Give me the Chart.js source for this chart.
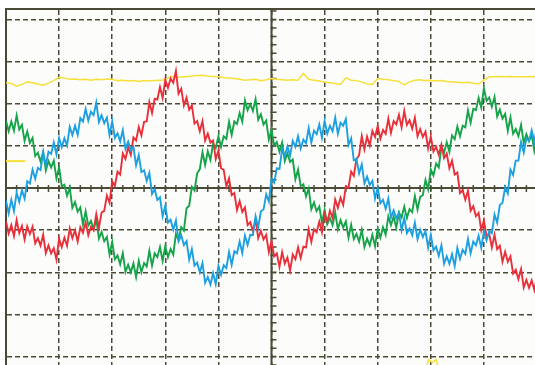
<!DOCTYPE html>
<html>
<head>
<meta charset="utf-8">
<script src="https://cdn.jsdelivr.net/npm/chart.js@4.4.1/dist/chart.umd.min.js"></script>
<style>
  html, body { margin: 0; padding: 0; background: #fff; overflow: hidden; }
  #wrap { width: 545px; height: 365px; }
</style>
</head>
<body>
<div id="wrap"><canvas id="scope" width="545" height="365"></canvas></div>
<script>
// screen units: 10 horizontal divisions, 8 vertical divisions (centre = 0)
const xTicks = [0, 1, 2, 3, 4, 5, 6, 7, 8, 9, 10];
const yTicks = [-4, -3, -2, -1, 0, 1, 2, 3, 4];
const sampleStep = 0.05;   // divisions between samples of the phase traces
const dcStep = 0.1;        // divisions between samples of the yellow trace

// phase currents (divisions)
const phaseRed = [
  -0.80, -1.08, -0.88, -1.14, -0.76, -1.07, -0.90, -1.22, -0.91, -1.09,
  -0.92, -1.31, -1.19, -1.37, -1.11, -1.54, -1.36, -1.55, -1.43, -1.70,
  -1.20, -1.40, -1.18, -1.37, -0.96, -1.19, -1.00, -1.27, -0.93, -1.06,
  -0.82, -1.12, -0.92, -1.00, -0.62, -0.94, -0.58, -0.54, -0.18, -0.35,
  0.16, 0.05, 0.39, 0.32, 0.82, 0.69, 0.97, 0.79, 1.20, 1.13,
  1.45, 1.25, 1.57, 1.58, 2.04, 1.78, 2.12, 2.10, 2.40, 2.14,
  2.57, 2.38, 2.60, 2.50, 2.78, 2.24, 2.36, 1.96, 2.15, 1.86,
  1.96, 1.53, 1.59, 1.35, 1.59, 1.13, 1.29, 1.08, 1.13, 0.69,
  0.89, 0.47, 0.43, 0.04, 0.23, -0.17, -0.12, -0.52, -0.31, -0.57,
  -0.46, -0.88, -0.81, -1.02, -0.75, -1.19, -1.02, -1.22, -1.11, -1.52,
  -1.26, -1.62, -1.55, -1.87, -1.52, -1.79, -1.65, -1.96, -1.58, -1.69,
  -1.41, -1.66, -1.39, -1.41, -0.98, -1.28, -0.98, -1.05, -0.80, -1.05,
  -0.62, -0.80, -0.54, -0.71, -0.27, -0.47, -0.23, -0.40, 0.04, 0.01,
  0.39, 0.29, 0.69, 0.78, 1.23, 0.92, 1.22, 1.01, 1.36, 1.21,
  1.47, 1.17, 1.38, 1.29, 1.65, 1.31, 1.59, 1.51, 1.74, 1.44,
  1.83, 1.50, 1.61, 1.41, 1.67, 1.23, 1.40, 1.21, 1.34, 0.94,
  1.22, 0.87, 0.98, 0.79, 1.03, 0.71, 0.82, 0.47, 0.65, 0.32,
  0.37, -0.12, -0.05, -0.28, -0.06, -0.54, -0.43, -0.67, -0.59, -1.00,
  -0.77, -1.15, -1.09, -1.41, -1.11, -1.45, -1.37, -1.75, -1.51, -1.75,
  -1.62, -2.03, -1.94, -2.16, -1.92, -2.36, -2.18, -2.37, -2.19, -2.42,
  -2.10
];
const phaseGreen = [
  1.60, 1.35, 1.58, 1.36, 1.72, 1.39, 1.50, 1.12, 1.34, 1.07,
  1.19, 0.76, 0.84, 0.63, 0.86, 0.42, 0.64, 0.49, 0.65, 0.23,
  0.49, 0.04, 0.08, -0.18, 0.01, -0.47, -0.33, -0.56, -0.46, -0.87,
  -0.55, -0.89, -0.78, -0.98, -0.74, -1.20, -1.04, -1.26, -1.16, -1.58,
  -1.28, -1.69, -1.60, -1.81, -1.55, -1.99, -1.82, -2.00, -1.79, -2.11,
  -1.73, -2.00, -1.78, -1.86, -1.49, -1.84, -1.55, -1.64, -1.40, -1.73,
  -1.38, -1.64, -1.45, -1.58, -1.09, -1.24, -0.93, -1.01, -0.48, -0.42,
  0.03, -0.06, 0.35, 0.45, 0.85, 0.55, 0.87, 0.67, 1.05, 0.95,
  1.23, 0.98, 1.23, 1.17, 1.57, 1.26, 1.58, 1.52, 1.78, 1.58,
  2.08, 1.85, 1.99, 1.83, 2.11, 1.62, 1.75, 1.51, 1.60, 1.15,
  1.38, 1.01, 1.09, 0.86, 1.08, 0.64, 0.82, 0.62, 0.68, 0.21,
  0.44, 0.05, 0.09, -0.20, -0.01, -0.50, -0.34, -0.55, -0.44, -0.83,
  -0.52, -0.86, -0.71, -0.88, -0.58, -0.98, -0.76, -0.94, -0.79, -1.18,
  -0.87, -1.21, -1.09, -1.27, -0.99, -1.40, -1.20, -1.36, -1.11, -1.38,
  -0.97, -1.18, -0.93, -1.11, -0.67, -0.88, -0.68, -0.94, -0.58, -0.70,
  -0.44, -0.71, -0.50, -0.57, -0.19, -0.51, -0.21, -0.17, 0.19, -0.03,
  0.44, 0.30, 0.58, 0.49, 0.98, 0.84, 1.09, 0.86, 1.25, 1.16,
  1.46, 1.23, 1.48, 1.44, 1.84, 1.55, 1.88, 1.85, 2.14, 1.91,
  2.37, 2.07, 2.15, 1.93, 2.16, 1.70, 1.86, 1.65, 1.76, 1.36,
  1.68, 1.29, 1.40, 1.23, 1.50, 1.07, 1.28, 1.11, 1.26, 0.88,
  1.15
];
const phaseBlue = [
  -0.30, -0.60, -0.28, -0.55, -0.11, -0.33, -0.05, -0.25, 0.16, 0.11,
  0.44, 0.22, 0.48, 0.43, 0.84, 0.54, 0.86, 0.81, 1.08, 0.80,
  1.19, 0.97, 1.18, 1.01, 1.45, 1.26, 1.48, 1.26, 1.66, 1.58,
  1.88, 1.60, 1.81, 1.73, 2.03, 1.57, 1.73, 1.54, 1.67, 1.26,
  1.58, 1.19, 1.30, 1.11, 1.37, 0.93, 1.10, 0.90, 0.98, 0.54,
  0.78, 0.38, 0.42, 0.17, 0.36, -0.14, -0.03, -0.28, -0.22, -0.67,
  -0.42, -0.82, -0.75, -0.99, -0.77, -1.26, -1.12, -1.35, -1.26, -1.70,
  -1.45, -1.84, -1.77, -2.00, -1.78, -2.25, -2.11, -2.29, -2.02, -2.28,
  -1.85, -2.06, -1.83, -1.90, -1.52, -1.82, -1.50, -1.55, -1.27, -1.54,
  -1.13, -1.35, -1.11, -1.12, -0.67, -0.93, -0.55, -0.51, -0.15, -0.32,
  0.21, 0.13, 0.47, 0.45, 0.93, 0.75, 0.99, 0.77, 1.12, 0.98,
  1.23, 0.94, 1.15, 1.06, 1.42, 1.08, 1.36, 1.28, 1.51, 1.19,
  1.59, 1.29, 1.48, 1.35, 1.67, 1.29, 1.55, 1.48, 1.64, 1.02,
  1.18, 0.66, 0.69, 0.35, 0.56, 0.11, 0.27, 0.07, 0.17, -0.25,
  0.01, -0.36, -0.28, -0.49, -0.25, -0.70, -0.53, -0.72, -0.59, -1.00,
  -0.71, -1.07, -0.96, -1.12, -0.82, -1.21, -0.99, -1.16, -1.02, -1.41,
  -1.11, -1.48, -1.39, -1.61, -1.36, -1.80, -1.62, -1.80, -1.57, -1.85,
  -1.42, -1.68, -1.47, -1.56, -1.21, -1.55, -1.27, -1.36, -1.13, -1.42,
  -1.02, -1.24, -1.02, -1.07, -0.63, -0.82, -0.40, -0.35, 0.02, -0.13,
  0.44, 0.31, 0.65, 0.65, 1.09, 0.84, 1.18, 1.12, 1.37, 1.09,
  1.48
];
// DC link trace (yellow)
const dcYellow = [
  2.50, 2.48, 2.42, 2.46, 2.52, 2.50, 2.47, 2.44, 2.49, 2.55,
  2.63, 2.61, 2.58, 2.59, 2.57, 2.58, 2.56, 2.58, 2.57, 2.59,
  2.58, 2.55, 2.56, 2.54, 2.55, 2.53, 2.55, 2.54, 2.55, 2.56,
  2.57, 2.65, 2.62, 2.64, 2.64, 2.66, 2.67, 2.68, 2.66, 2.65,
  2.64, 2.62, 2.61, 2.60, 2.58, 2.56, 2.57, 2.58, 2.55, 2.57,
  2.60, 2.58, 2.57, 2.56, 2.57, 2.56, 2.72, 2.58, 2.56, 2.54,
  2.52, 2.50, 2.48, 2.46, 2.62, 2.56, 2.55, 2.52, 2.47, 2.46,
  2.60, 2.58, 2.57, 2.55, 2.53, 2.45, 2.52, 2.56, 2.57, 2.55,
  2.56, 2.54, 2.55, 2.53, 2.52, 2.51, 2.50, 2.51, 2.49, 2.47,
  2.56, 2.64, 2.64, 2.65, 2.64, 2.65, 2.64, 2.64, 2.64, 2.65,
  2.64
];
// ground reference marker and trigger marker
const refMarkX = [0, 0.36];
const refMarkY = [0.64, 0.64];
const trigMarkX = [7.93, 7.96, 8.03, 8.10, 8.13];
const trigMarkY = [-4.2, -4.07, -4.14, -4.07, -4.2];

const gridInk = '#4a4a36';

function toPoints(ys, step) {
  return ys.map((y, i) => ({ x: i * step, y: y }));
}
function pairPoints(xs, ys) {
  return xs.map((x, i) => ({ x: x, y: ys[i] }));
}

const screenPlugin = {
  id: 'screen',
  beforeDraw(chart) {
    const { ctx, chartArea: a } = chart;
    ctx.save();
    ctx.fillStyle = '#fcfcfa';
    ctx.fillRect(a.left, a.top, a.right - a.left, a.bottom - a.top);
    ctx.restore();
  },
  beforeDatasetsDraw(chart) {
    const { ctx, chartArea: a, scales: { x, y } } = chart;
    const cx = x.getPixelForValue(5);
    const cy = y.getPixelForValue(0);
    ctx.save();
    ctx.strokeStyle = gridInk;
    ctx.lineWidth = 2;
    ctx.beginPath();
    ctx.moveTo(a.left, cy); ctx.lineTo(a.right, cy);
    ctx.moveTo(cx, a.top); ctx.lineTo(cx, a.bottom);
    ctx.stroke();
    // minor ticks, 5 per division
    ctx.lineWidth = 1.5;
    ctx.beginPath();
    for (let v = 0; v <= 50; v++) {
      const px = x.getPixelForValue(v / 5);
      ctx.moveTo(px, cy - 3); ctx.lineTo(px, cy + 4);
    }
    for (let v = -21; v <= 21; v++) {
      const py = y.getPixelForValue(v / 5);
      ctx.moveTo(cx - 1, py); ctx.lineTo(cx + 5, py);
    }
    ctx.stroke();
    ctx.restore();
  }
};

const traceStyle = (color, w) => ({
  borderColor: color,
  borderWidth: w,
  pointRadius: 0,
  tension: 0,
  fill: false
});

new Chart(document.getElementById('scope'), {
  type: 'line',
  data: {
    datasets: [
      Object.assign({ label: 'B', data: toPoints(phaseBlue, sampleStep) }, traceStyle('#1ca0e0', 1.9)),
      Object.assign({ label: 'R', data: toPoints(phaseRed, sampleStep) }, traceStyle('#e8303a', 1.9)),
      Object.assign({ label: 'G', data: toPoints(phaseGreen, sampleStep) }, traceStyle('#16a34a', 1.9)),
      Object.assign({ label: 'DC', data: toPoints(dcYellow, dcStep) }, traceStyle('#f6e03a', 1.5)),
      Object.assign({ label: 'ref', data: pairPoints(refMarkX, refMarkY) }, traceStyle('#f6e03a', 2)),
      Object.assign({ label: 'trig', data: pairPoints(trigMarkX, trigMarkY) }, traceStyle('#f6e03a', 1.5))
    ]
  },
  options: {
    responsive: false,
    animation: false,
    events: [],
    layout: { padding: { left: 6, top: 9, right: 8, bottom: 0 } },
    plugins: { legend: { display: false }, tooltip: { enabled: false } },
    scales: {
      x: {
        type: 'linear',
        position: 'top',
        min: 0,
        max: 10,
        afterBuildTicks: s => { s.ticks = xTicks.map(v => ({ value: v })); },
        ticks: { display: false },
        grid: { color: gridInk, lineWidth: 1.5, drawTicks: false },
        border: { display: true, color: gridInk, width: 2, dash: [5, 3] }
      },
      y: {
        type: 'linear',
        min: -4.2,
        max: 4.25,
        afterBuildTicks: s => { s.ticks = yTicks.map(v => ({ value: v })); },
        ticks: { display: false },
        grid: { color: gridInk, lineWidth: 1.5, drawTicks: false },
        border: { display: true, color: gridInk, width: 2, dash: [5, 3] }
      }
    }
  },
  plugins: [screenPlugin]
});
</script>
</body>
</html>
